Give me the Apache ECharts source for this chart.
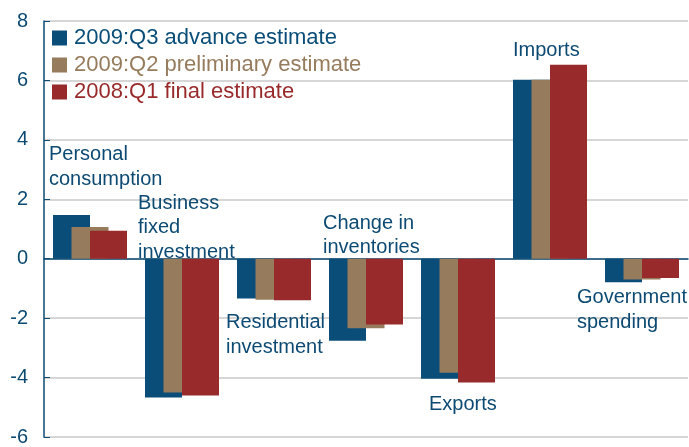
<!DOCTYPE html>
<html>
<head>
<meta charset="utf-8">
<script src="https://cdn.jsdelivr.net/npm/echarts@6/dist/echarts.min.js"></script>
<style>
  html, body { margin: 0; padding: 0; background: #fff; }
  #chart { width: 689px; height: 447px; }
</style>
</head>
<body>
<div id="chart"></div>
<script>
// categories (line breaks as printed on the chart)
const categories = [
  'Personal\nconsumption',
  'Business\nfixed\ninvestment',
  'Residential\ninvestment',
  'Change in\ninventories',
  'Exports',
  'Imports',
  'Government\nspending'
];
const seriesNames = ['2009:Q3 advance estimate', '2009:Q2 preliminary estimate', '2008:Q1 final estimate'];
const q3Advance = [1.47, -4.67, -1.34, -2.76, -4.04, 6.02, -0.79];
const q2Prelim = [1.07, -4.50, -1.38, -2.34, -3.84, 6.02, -0.70];
const q1Final = [0.94, -4.60, -1.40, -2.21, -4.17, 6.53, -0.65];
const yTicks = [-6, -4, -2, 0, 2, 4, 6, 8];

// where each category caption sits: [x shift in px from category centre, y in axis units]
const captionSpots = [[-41, 3.22], [-44, 1.17], [-48, -2.43], [-43, 0.91], [-29, -4.78], [-37, 7.14], [-65, -1.59]];

const colors = ['#0a4d78', '#967b5d', '#982a2b'];
const axisBlue = '#0d4a73';
const font = '"Liberation Sans", Arial, sans-serif';

const chart = echarts.init(document.getElementById('chart'));

const barSeries = [q3Advance, q2Prelim, q1Final].map((vals, i) => ({
  name: seriesNames[i],
  type: 'bar',
  data: vals,
  barWidth: 37,
  barGap: '-50%',
  itemStyle: { color: colors[i] },
  z: 2 + i
}));

chart.setOption({
  animation: false,
  color: colors,
  grid: { left: 44, right: 1, top: 21, bottom: 5.3, containLabel: false },
  legend: {
    orient: 'vertical',
    left: 52,
    top: 27,
    padding: 0,
    itemWidth: 15,
    itemHeight: 15,
    itemGap: 5,
    icon: 'rect',
    selectedMode: false,
    data: seriesNames.map((n, i) => ({
      name: n,
      textStyle: { color: colors[i], fontSize: 22, fontFamily: font, padding: [0, 0, 0, 2] }
    }))
  },
  xAxis: {
    type: 'category',
    data: categories,
    axisLine: { show: true, onZero: true, lineStyle: { color: axisBlue, width: 1.5 } },
    axisTick: { show: false },
    axisLabel: { show: false },
    splitLine: { show: false }
  },
  yAxis: {
    type: 'value',
    min: yTicks[0],
    max: yTicks[yTicks.length - 1],
    interval: 2,
    axisLine: { show: true, lineStyle: { color: axisBlue, width: 1.5 } },
    axisTick: { show: true, inside: true, length: 6, lineStyle: { color: axisBlue } },
    axisLabel: { color: axisBlue, fontSize: 20, fontFamily: font, margin: 16 },
    splitLine: { show: true, lineStyle: { color: '#c8c8c8', width: 1.5 } }
  },
  series: barSeries.concat([{
    name: 'captions',
    type: 'scatter',
    symbolSize: 0,
    silent: true,
    z: 10,
    data: categories.map((c, i) => ({ value: [c, captionSpots[i][1]] })),
    label: {
      show: true,
      position: [0, 0],
      align: 'left',
      verticalAlign: 'middle',
      color: axisBlue,
      textBorderWidth: 0,
      opacity: 1,
      fontSize: 20,
      lineHeight: 24.5,
      fontFamily: font,
      formatter: p => p.value[0]
    },
    labelLayout: p => ({ dx: captionSpots[p.dataIndex][0], dy: 4 })
  }])
});
</script>
</body>
</html>
